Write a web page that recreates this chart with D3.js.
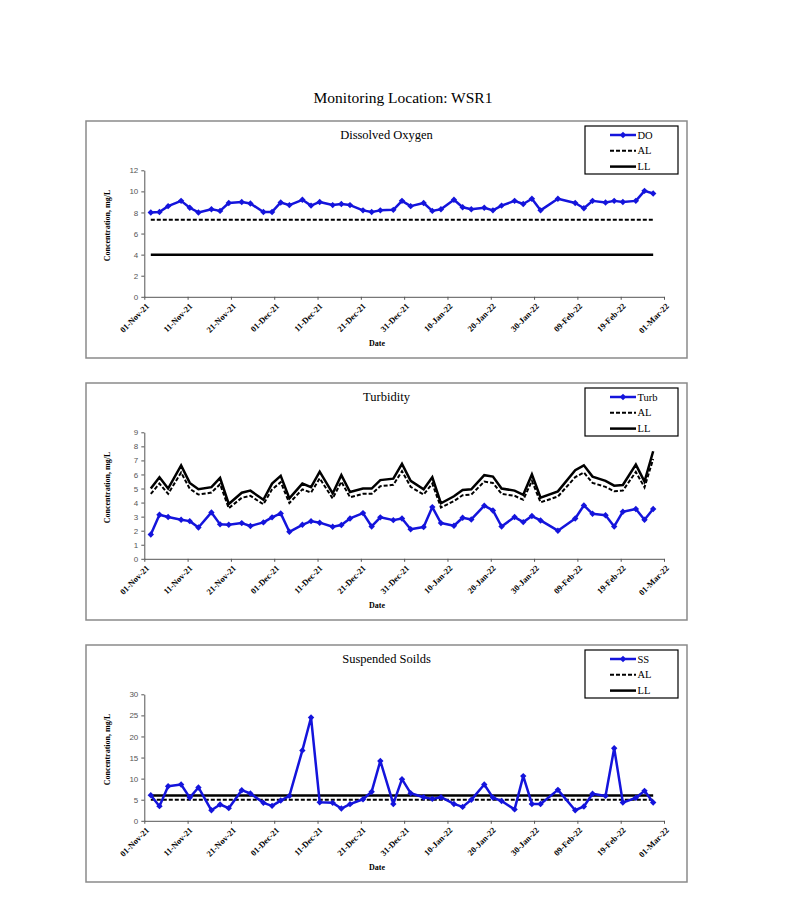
<!DOCTYPE html>
<html>
<head>
<meta charset="utf-8">
<script src="https://cdn.jsdelivr.net/npm/d3@7"></script>
<style>
  html, body { margin: 0; padding: 0; background: #fff; }
  svg { display: block; }
</style>
</head>
<body>
<svg id="chart" width="794" height="921"></svg>
<script>
// ---------------- DATA ----------------
const sampleDates = [
  "2021-11-02","2021-11-04","2021-11-06","2021-11-09","2021-11-11","2021-11-13","2021-11-16","2021-11-18",
  "2021-11-20","2021-11-23","2021-11-25","2021-11-28","2021-11-30","2021-12-02","2021-12-04","2021-12-07",
  "2021-12-09","2021-12-11","2021-12-14","2021-12-16","2021-12-18","2021-12-21","2021-12-23","2021-12-25",
  "2021-12-28","2021-12-30","2022-01-01","2022-01-04","2022-01-06","2022-01-08","2022-01-11","2022-01-13",
  "2022-01-15","2022-01-18","2022-01-20","2022-01-22","2022-01-25","2022-01-27","2022-01-29","2022-01-31",
  "2022-02-04","2022-02-08","2022-02-10","2022-02-12","2022-02-15","2022-02-17","2022-02-19","2022-02-22",
  "2022-02-24","2022-02-26"
];

const doValues = [
  8.0, 8.05, 8.6, 9.1, 8.45, 8.0, 8.3, 8.15, 8.9, 9.0, 8.85, 8.05, 8.05, 8.95, 8.7, 9.2,
  8.65, 9.0, 8.7, 8.8, 8.7, 8.2, 8.05, 8.2, 8.25, 9.1, 8.6, 8.9, 8.15, 8.3, 9.2, 8.5,
  8.3, 8.45, 8.2, 8.65, 9.1, 8.8, 9.3, 8.2, 9.3, 8.9, 8.4, 9.1, 8.95, 9.1, 9.0, 9.1,
  10.05, 9.8
];
const doAL = 7.3;
const doLL = 4.0;

const turbValues = [
  1.73, 3.13, 2.97, 2.78, 2.68, 2.23, 3.3, 2.45, 2.42, 2.54, 2.33, 2.59, 2.95, 3.23, 1.92, 2.42,
  2.68, 2.57, 2.28, 2.4, 2.87, 3.25, 2.3, 2.95, 2.75, 2.87, 2.1, 2.26, 3.68, 2.54, 2.35, 2.92,
  2.8, 3.78, 3.44, 2.3, 2.97, 2.61, 3.04, 2.73, 2.0, 2.87, 3.8, 3.2, 3.1, 2.3, 3.35, 3.54,
  2.78, 3.54
];
const turbAL = [
  4.62, 5.35, 4.62, 6.14, 4.98, 4.57, 4.71, 5.31, 3.6, 4.34, 4.48, 3.88, 4.94, 5.45, 3.97, 4.94,
  4.71, 5.72, 4.29, 5.49, 4.38, 4.62, 4.62, 5.17, 5.26, 6.23, 5.12, 4.57, 5.35, 3.65, 4.11, 4.52,
  4.57, 5.49, 5.4, 4.62, 4.48, 4.2, 5.54, 4.02, 4.43, 5.81, 6.14, 5.4, 5.12, 4.8, 4.85, 6.18,
  5.08, 7.1
];
const turbLL = [
  5.0, 5.8, 5.0, 6.65, 5.4, 4.95, 5.1, 5.75, 3.9, 4.7, 4.85, 4.2, 5.35, 5.9, 4.3, 5.35,
  5.1, 6.2, 4.65, 5.95, 4.75, 5.0, 5.0, 5.6, 5.7, 6.75, 5.55, 4.95, 5.8, 3.95, 4.45, 4.9,
  4.95, 5.95, 5.85, 5.0, 4.85, 4.55, 6.0, 4.35, 4.8, 6.3, 6.65, 5.85, 5.55, 5.2, 5.25, 6.7,
  5.5, 7.65
];

const ssValues = [
  6.08, 3.47, 8.2, 8.6, 5.5, 7.9, 2.5, 3.87, 3.0, 7.26, 6.47, 4.26, 3.55, 4.8, 5.9, 16.7,
  24.5, 4.4, 4.26, 2.9, 3.95, 5.1, 6.9, 14.2, 4.0, 9.87, 6.55, 5.6, 5.2, 5.6, 4.0, 3.3,
  4.97, 8.6, 5.5, 4.7, 2.7, 10.6, 4.0, 4.0, 7.34, 2.5, 3.4, 6.4, 5.9, 17.2, 4.34, 5.45,
  7.1, 4.34
];
const ssAL = 5;
const ssLL = 6;

const xTickDates = [
  "2021-11-01","2021-11-11","2021-11-21","2021-12-01","2021-12-11","2021-12-21","2021-12-31",
  "2022-01-10","2022-01-20","2022-01-30","2022-02-09","2022-02-19","2022-03-01"
];
const xDomain = ["2021-11-01", "2022-03-01"];

const doTicks = [0, 2, 4, 6, 8, 10, 12];
const turbTicks = [0, 1, 2, 3, 4, 5, 6, 7, 8, 9];
const ssTicks = [0, 5, 10, 15, 20, 25, 30];

const mainTitle = "Monitoring Location: WSR1";
const panelTitles = ["Dissolved Oxygen", "Turbidity", "Suspended Soilds"];
const seriesNames = ["DO", "Turb", "SS"];
const yLabel = "Concentration, mg/L";
const xLabel = "Date";

// ---------------- DRAWING ----------------
const parse = d3.utcParse("%Y-%m-%d");
const fmt = d3.utcFormat("%d-%b-%y");
const dates = sampleDates.map(parse);
const svg = d3.select("#chart");

const SERIF = "Liberation Serif, Times New Roman, Times, DejaVu Serif, serif";
const SANS = "Liberation Sans, Arial, sans-serif";
const BLUE = "#1414dc";

svg.append("text")
  .attr("x", 403).attr("y", 103)
  .attr("text-anchor", "middle")
  .attr("font-family", SERIF).attr("font-size", 15.5)
  .text(mainTitle);

const panels = [
  { top: 121, title: panelTitles[0], name: seriesNames[0], values: doValues,
    al: dates.map(() => doAL), ll: dates.map(() => doLL), yMax: 12, ticks: doTicks },
  { top: 383, title: panelTitles[1], name: seriesNames[1], values: turbValues,
    al: turbAL, ll: turbLL, yMax: 9, ticks: turbTicks },
  { top: 645, title: panelTitles[2], name: seriesNames[2], values: ssValues,
    al: dates.map(() => ssAL), ll: dates.map(() => ssLL), yMax: 30, ticks: ssTicks }
];

const panelLeft = 86, panelRight = 687, panelH = 237;
const plotLeft = 144.3, plotRight = 664;

const x = d3.scaleUtc().domain(xDomain.map(parse)).range([plotLeft, plotRight]);
const xPos = d => x(d3.utcHour.offset(d, 12));

const diamond = "M0,-3.2L3.2,0L0,3.2L-3.2,0Z";

panels.forEach(p => {
  const g = svg.append("g");
  const top = p.top;
  const plotTop = top + 49.3, plotBottom = top + 175.8;
  const y = d3.scaleLinear().domain([0, p.yMax]).range([plotBottom, plotTop]);

  // frame
  g.append("rect")
    .attr("x", panelLeft).attr("y", top)
    .attr("width", panelRight - panelLeft).attr("height", panelH)
    .attr("fill", "#fff").attr("stroke", "#8a8a8a").attr("stroke-width", 1.5);

  // title
  g.append("text")
    .attr("x", (panelLeft + panelRight) / 2).attr("y", top + 18)
    .attr("text-anchor", "middle")
    .attr("font-family", SERIF).attr("font-size", 12.5)
    .text(p.title);

  // y axis
  const yAxis = d3.axisLeft(y).tickValues(p.ticks).tickSize(3).tickSizeOuter(0).tickPadding(3);
  const ya = g.append("g").attr("transform", `translate(${plotLeft},0)`).call(yAxis);
  ya.attr("font-family", SANS).attr("font-size", 8);
  ya.select(".domain").attr("stroke", "#555");
  ya.selectAll(".tick line").attr("stroke", "#555");
  ya.selectAll("text").attr("fill", "#555");

  // x axis
  const xAxis = d3.axisBottom(x).tickValues(xTickDates.map(parse)).tickFormat(fmt)
    .tickSize(3).tickSizeOuter(0);
  const xa = g.append("g").attr("transform", `translate(0,${plotBottom})`).call(xAxis);
  xa.attr("font-family", SERIF).attr("font-size", 8.5).attr("font-weight", "bold");
  xa.select(".domain").attr("stroke", "#555");
  xa.selectAll(".tick line").attr("stroke", "#555");
  xa.selectAll("text")
    .attr("fill", "#000")
    .attr("text-anchor", "end")
    .attr("dy", null).attr("y", null)
    .attr("transform", "translate(5,10) rotate(-45)");

  // axis titles
  g.append("text")
    .attr("transform", `translate(110,${(plotTop + plotBottom) / 2 - 8}) rotate(-90)`)
    .attr("text-anchor", "middle")
    .attr("font-family", SERIF).attr("font-size", 8).attr("font-weight", "bold")
    .text(yLabel);
  g.append("text")
    .attr("x", 377).attr("y", top + 225)
    .attr("text-anchor", "middle")
    .attr("font-family", SERIF).attr("font-size", 8).attr("font-weight", "bold")
    .text(xLabel);

  // lines
  const line = d3.line().x(d => xPos(d[0])).y(d => y(d[1]));
  g.append("path").datum(dates.map((d, i) => [d, p.ll[i]]))
    .attr("d", line).attr("fill", "none").attr("stroke", "#000").attr("stroke-width", 2.5);
  g.append("path").datum(dates.map((d, i) => [d, p.al[i]]))
    .attr("d", line).attr("fill", "none").attr("stroke", "#000").attr("stroke-width", 2)
    .attr("stroke-dasharray", "4,2");
  g.append("path").datum(dates.map((d, i) => [d, p.values[i]]))
    .attr("d", line).attr("fill", "none").attr("stroke", BLUE).attr("stroke-width", 2.5)
    .attr("stroke-linejoin", "round");
  g.selectAll(".pt").data(dates.map((d, i) => [d, p.values[i]])).enter()
    .append("path")
    .attr("d", diamond)
    .attr("transform", d => `translate(${xPos(d[0])},${y(d[1])})`)
    .attr("fill", BLUE);

  // legend
  const lx = 585, ly = top + 5, lw = 93, lh = 48;
  g.append("rect").attr("x", lx).attr("y", ly).attr("width", lw).attr("height", lh)
    .attr("fill", "#fff").attr("stroke", "#000").attr("stroke-width", 1.2);
  const rows = [
    { label: p.name, color: BLUE, dash: null, w: 2.5, marker: true },
    { label: "AL", color: "#000", dash: "4,2", w: 2, marker: false },
    { label: "LL", color: "#000", dash: null, w: 2.5, marker: false }
  ];
  rows.forEach((r, i) => {
    const ry = top + 14 + i * 15.8;
    g.append("line").attr("x1", 610).attr("x2", 636).attr("y1", ry).attr("y2", ry)
      .attr("stroke", r.color).attr("stroke-width", r.w)
      .attr("stroke-dasharray", r.dash);
    if (r.marker) {
      g.append("path").attr("d", diamond).attr("transform", `translate(623,${ry})`).attr("fill", BLUE);
    }
    g.append("text").attr("x", 637.5).attr("y", ry + 3.5)
      .attr("font-family", SERIF).attr("font-size", 10.5)
      .text(r.label);
  });
});
</script>
</body>
</html>
